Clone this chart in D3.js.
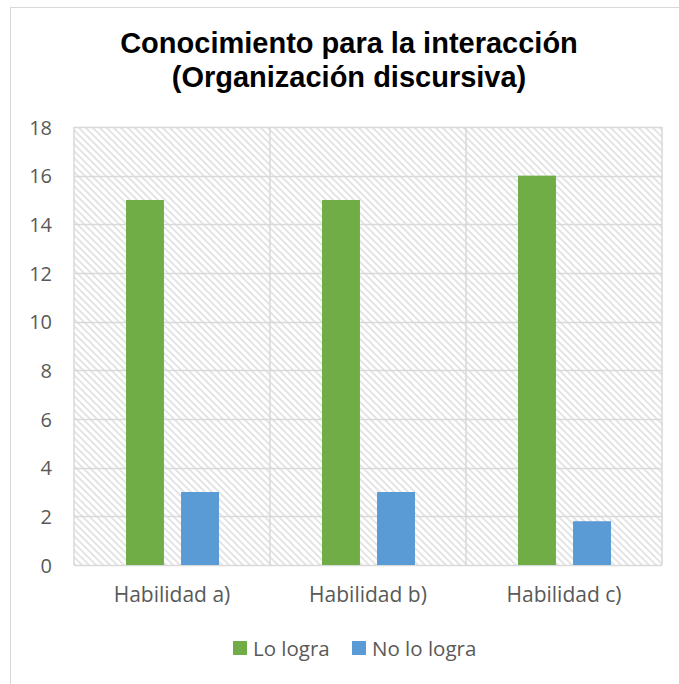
<!DOCTYPE html>
<html><head><meta charset="utf-8">
<script src="https://cdn.jsdelivr.net/npm/d3@7"></script>
<style>body{margin:0;background:#fff}</style>
</head><body>
<svg id="c" width="679" height="684"></svg>
<script>
const categories = ["Habilidad a)", "Habilidad b)", "Habilidad c)"];
const seriesNames = ["Lo logra", "No lo logra"];
const loLogra = [15, 15, 16];
const noLoLogra = [3, 3, 1.8];
const yTicks = [0, 2, 4, 6, 8, 10, 12, 14, 16, 18];
const colors = ["#70AD47", "#5B9BD5"];
const titleLines = ["Conocimiento para la interacción", "(Organización discursiva)"];

const svg = d3.select("#c");
const W = 679, H = 684;
const m = {left: 74, right: 662, top: 127, bottom: 565};

// outer border
svg.append("rect").attr("x", 10.5).attr("y", 7.5).attr("width", W + 20).attr("height", H + 20)
  .attr("fill", "#fff").attr("stroke", "#d9d9d9").attr("stroke-width", 1);

// hatch pattern
const defs = svg.append("defs");
const pat = defs.append("pattern").attr("id", "hatch").attr("patternUnits", "userSpaceOnUse")
  .attr("width", 7).attr("height", 7);
pat.append("rect").attr("width", 7).attr("height", 7).attr("fill", "#fff");
pat.append("path").attr("d", "M-1,-1 L8,8 M-1,6 L1,8 M6,-1 L8,1")
  .attr("stroke", "#e2e2e2").attr("stroke-width", 1.7);

const x0 = d3.scaleBand().domain(categories).range([m.left, m.right]).paddingInner(0).paddingOuter(0);
const x1 = d3.scaleBand().domain(seriesNames).range([52, 145]).paddingInner(0.31).paddingOuter(0);
const y = d3.scaleLinear().domain([0, 18]).range([m.bottom, m.top]);

// plot background
svg.append("rect").attr("x", m.left).attr("y", m.top).attr("width", m.right - m.left)
  .attr("height", m.bottom - m.top).attr("fill", "url(#hatch)");

// horizontal gridlines
svg.append("g").selectAll("line").data(yTicks).join("line")
  .attr("x1", m.left).attr("x2", m.right)
  .attr("y1", d => Math.round(y(d)) + 0.5).attr("y2", d => Math.round(y(d)) + 0.5)
  .attr("stroke", "#d9d9d9").attr("stroke-width", 1.5);

// vertical gridlines at category boundaries
const bounds = categories.map(c => x0(c)).concat([m.right]);
svg.append("g").selectAll("line").data(bounds).join("line")
  .attr("x1", d => d).attr("x2", d => d).attr("y1", m.top).attr("y2", m.bottom)
  .attr("stroke", "#d9d9d9").attr("stroke-width", 1.5);

// bars
const data = categories.map((c, i) => ({c, vals: [loLogra[i], noLoLogra[i]]}));
const g = svg.append("g");
data.forEach(d => {
  d.vals.forEach((v, j) => {
    g.append("rect")
      .attr("x", x0(d.c) + x1(seriesNames[j]))
      .attr("width", x1.bandwidth())
      .attr("y", y(v)).attr("height", y(0) - y(v))
      .attr("fill", colors[j]);
  });
});

// y axis labels
const yAxis = d3.axisLeft(y).tickValues(yTicks).tickSize(0).tickPadding(0);
const ya = svg.append("g").attr("transform", `translate(52,0)`).call(yAxis);
ya.select(".domain").remove();
ya.attr("font-family", "'Open Sans', sans-serif").attr("font-size", 20);
ya.selectAll("text").attr("fill", "#595959").attr("dy", "0.36em");

// x axis labels
const xAxis = d3.axisBottom(x0).tickSize(0).tickPadding(0);
const xa = svg.append("g").attr("transform", `translate(0,${m.bottom})`).call(xAxis);
xa.select(".domain").remove();
xa.attr("font-family", "'Open Sans', sans-serif").attr("font-size", 21);
xa.selectAll("text").attr("fill", "#595959").attr("dy", null).attr("y", 37);

// title
svg.append("g").selectAll("text").data(titleLines).join("text")
  .attr("x", 349).attr("y", (d, i) => 53 + i * 34)
  .attr("text-anchor", "middle")
  .attr("font-family", "'Liberation Sans', Arial, sans-serif").attr("font-weight", "bold")
  .attr("font-size", 29).attr("fill", "#000").text(d => d);

// legend
const legendX = [233, 352];
const lg = svg.append("g");
seriesNames.forEach((s, i) => {
  lg.append("rect").attr("x", legendX[i]).attr("y", 641).attr("width", 14).attr("height", 14).attr("fill", colors[i]);
  lg.append("text").attr("x", legendX[i] + 20).attr("y", 656)
    .attr("font-family", "'Open Sans', sans-serif").attr("font-size", 20.5)
    .attr("fill", "#595959").text(s);
});
</script>
</body></html>
